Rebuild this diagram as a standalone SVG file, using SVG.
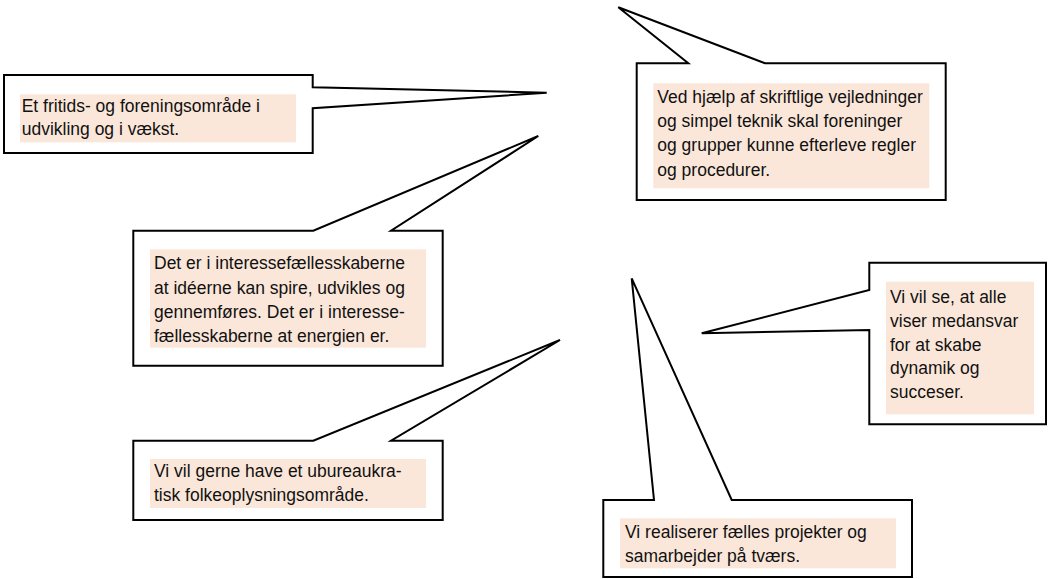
<svg xmlns="http://www.w3.org/2000/svg" width="1049" height="579" viewBox="0 0 1049 579">
<style>
.co{fill:#ffffff;stroke:#000000;stroke-width:2;stroke-linejoin:miter}
.hl{fill:#fbe7da;stroke:none}
.t{font-family:"Liberation Sans",Arial,sans-serif;font-size:18.5px;fill:#111111}
</style>
<rect width="1049" height="579" fill="#ffffff"/>
<g id="connectors"></g>
<g id="node1">
<path class="co" d="M4,75 H312.7 V87.3 L546.7,92.7 L312.7,108.3 V153 H4 Z"/>
<rect class="hl" x="20" y="94.3" width="276" height="48"/>
<text class="t" transform="translate(21.7 0) scale(0.946 1)"><tspan x="0" y="112.5">Et fritids- og foreningsområde i</tspan><tspan x="0" y="135.5">udvikling og i vækst.</tspan></text>
</g>
<g id="node2">
<path class="co" d="M636.7,63.3 H688.3 L618.3,7.3 L765,63.3 H945.7 V200 H636.7 Z"/>
<rect class="hl" x="653.3" y="83.3" width="276" height="105"/>
<text class="t" transform="translate(657.3 0) scale(0.946 1)"><tspan x="0" y="103.3">Ved hjælp af skriftlige vejledninger</tspan><tspan x="0" y="127.5">og simpel teknik skal foreninger</tspan><tspan x="0" y="151.5">og grupper kunne efterleve regler</tspan><tspan x="0" y="175.7">og procedurer.</tspan></text>
</g>
<g id="node3">
<path class="co" d="M133.3,230.7 H313.3 L538.3,136 L391,230.7 H442.7 V365.7 H133.3 Z"/>
<rect class="hl" x="150" y="249.3" width="276" height="98.4"/>
<text class="t" transform="translate(154 0) scale(0.946 1)"><tspan x="0" y="269.3">Det er i interessefællesskaberne</tspan><tspan x="0" y="293.7">at idéerne kan spire, udvikles og</tspan><tspan x="0" y="318">gennemføres. Det er i interesse-</tspan><tspan x="0" y="342.3">fællesskaberne at energien er.</tspan></text>
</g>
<g id="node4">
<path class="co" d="M133.3,440.7 H313.3 L560,340 L391,440.7 H442.7 V520 H133.3 Z"/>
<rect class="hl" x="150" y="459" width="276" height="49"/>
<text class="t" transform="translate(154 0) scale(0.946 1)"><tspan x="0" y="477.5">Vi vil gerne have et ubureaukra-</tspan><tspan x="0" y="501">tisk folkeoplysningsområde.</tspan></text>
</g>
<g id="node5">
<path class="co" d="M869.3,262.7 H1046 V424.3 H869.3 V330 L701.7,333.3 L869.3,290 Z"/>
<rect class="hl" x="886" y="281.7" width="148" height="132.6"/>
<text class="t" transform="translate(890 0) scale(0.946 1)"><tspan x="0" y="303.3">Vi vil se, at alle</tspan><tspan x="0" y="327">viser medansvar</tspan><tspan x="0" y="350.7">for at skabe</tspan><tspan x="0" y="374.4">dynamik og</tspan><tspan x="0" y="398">succeser.</tspan></text>
</g>
<g id="node6">
<path class="co" d="M603.3,500 H654 L631.7,278.3 L731.7,500 H912 V577 H603.3 Z"/>
<rect class="hl" x="620" y="518.3" width="276" height="50"/>
<text class="t" transform="translate(625 0) scale(0.946 1)"><tspan x="0" y="538.3">Vi realiserer fælles projekter og</tspan><tspan x="0" y="561.7">samarbejder på tværs.</tspan></text>
</g>
</svg>
